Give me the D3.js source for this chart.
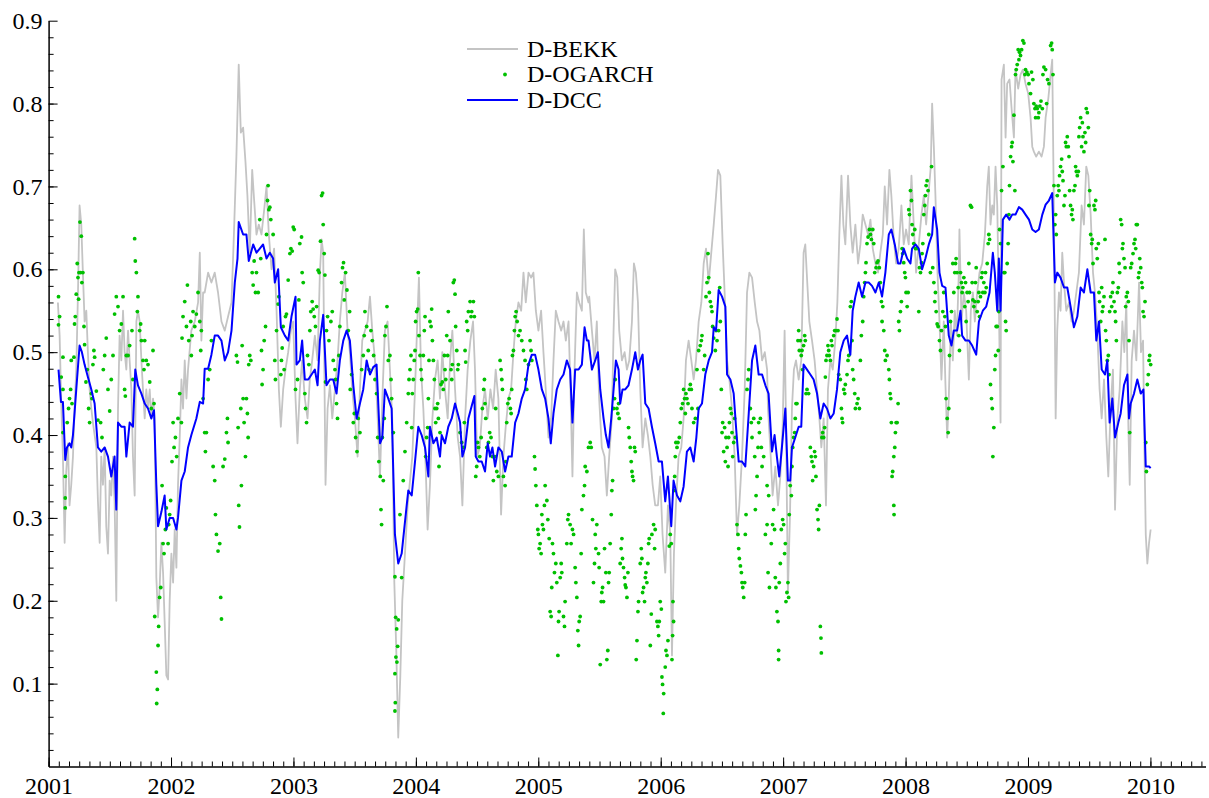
<!DOCTYPE html>
<html>
<head>
<meta charset="utf-8">
<script src="https://cdn.jsdelivr.net/npm/d3@7"></script>
<style>
body { margin: 0; background: #fff; }
svg text { font-family: "Liberation Serif", "DejaVu Serif", serif; fill: #000; }
</style>
</head>
<body>
<svg id="chart"></svg>
<script>
// tick labels
const yearTicks = [2001, 2002, 2003, 2004, 2005, 2006, 2007, 2008, 2009, 2010]
const valueTicks = [0.1, 0.2, 0.3, 0.4, 0.5, 0.6, 0.7, 0.8, 0.9]
const seriesNames = ["D-BEKK", "D-OGARCH", "D-DCC"]

// [decimal year, value]
const bekk = [
[2001.076,.56],[2001.090,.52],[2001.103,.44],[2001.117,.374],[2001.131,.27],[2001.144,.356],[2001.158,.39],[2001.171,.315],[2001.185,.34],[2001.199,.374],
[2001.212,.432],[2001.226,.479],[2001.240,.572],[2001.253,.677],[2001.267,.654],[2001.280,.596],[2001.294,.537],[2001.308,.55],[2001.321,.50],[2001.335,.455],
[2001.349,.432],[2001.362,.415],[2001.376,.40],[2001.390,.385],[2001.403,.32],[2001.417,.27],[2001.430,.374],[2001.444,.34],[2001.458,.385],[2001.471,.29],
[2001.485,.257],[2001.499,.345],[2001.512,.327],[2001.526,.374],[2001.539,.32],[2001.553,.20],[2001.567,.432],[2001.580,.52],[2001.594,.49],[2001.608,.55],
[2001.621,.50],[2001.635,.479],[2001.649,.526],[2001.662,.49],[2001.676,.455],[2001.689,.374],[2001.703,.327],[2001.717,.537],[2001.730,.55],[2001.744,.537],
[2001.758,.49],[2001.771,.455],[2001.785,.42],[2001.798,.455],[2001.812,.432],[2001.826,.455],[2001.839,.42],[2001.853,.444],[2001.867,.42],[2001.880,.228],
[2001.894,.18],[2001.907,.216],[2001.921,.27],[2001.935,.234],[2001.948,.175],[2001.962,.11],[2001.976,.105],[2001.989,.20],[2002.003,.257],[2002.017,.222],
[2002.030,.286],[2002.044,.24],[2002.057,.34],[2002.071,.397],[2002.085,.467],[2002.098,.432],[2002.112,.49],[2002.126,.444],[2002.139,.479],[2002.166,.526],
[2002.194,.537],[2002.221,.56],[2002.235,.62],[2002.248,.514],[2002.262,.572],[2002.275,.572],[2002.303,.596],[2002.330,.584],[2002.357,.596],[2002.384,.572],
[2002.412,.537],[2002.439,.526],
[2002.466,.543],[2002.494,.56],[2002.515,.648],[2002.534,.736],[2002.553,.847],[2002.570,.765],[2002.589,.771],[2002.608,.73],[2002.624,.689],[2002.643,.62],
[2002.663,.72],[2002.679,.683],[2002.698,.642],[2002.717,.654],[2002.739,.642],[2002.761,.672],[2002.780,.70],[2002.799,.642],[2002.821,.60],[2002.842,.625],
[2002.862,.55],[2002.881,.455],[2002.897,.41],[2002.916,.455],[2002.935,.479],[2002.957,.50],[2002.979,.526],[2002.998,.537],[2003.017,.444],[2003.033,.39],
[2003.052,.455],[2003.071,.49],[2003.093,.444],[2003.115,.42],[2003.134,.467],[2003.153,.49],[2003.175,.52],[2003.197,.49],[2003.216,.596],[2003.230,.636],
[2003.243,.62],[2003.262,.34],[2003.279,.432],[2003.298,.46],[2003.317,.42],[2003.339,.455],[2003.360,.49],[2003.379,.537],[2003.399,.572],[2003.420,.596],
[2003.442,.526],[2003.461,.50],[2003.480,.455],[2003.502,.42],[2003.524,.374],[2003.543,.455],[2003.562,.514],[2003.584,.526],[2003.606,.537],[2003.625,.567],
[2003.644,.526],[2003.666,.49],[2003.688,.42],[2003.707,.35],[2003.726,.444],[2003.747,.526],[2003.769,.537],[2003.788,.479],[2003.807,.42],[2003.824,.222],
[2003.840,.14],[2003.856,.035],[2003.873,.11],[2003.889,.20],[2003.911,.257],
[2003.933,.315],[2003.952,.345],[2003.971,.374],[2003.993,.455],[2004.009,.526],[2004.025,.59],[2004.042,.479],[2004.061,.432],[2004.080,.362],[2004.096,.286],
[2004.115,.34],[2004.135,.42],[2004.156,.467],[2004.178,.49],[2004.197,.444],[2004.216,.50],[2004.238,.455],[2004.260,.42],[2004.279,.49],[2004.298,.526],
[2004.320,.455],[2004.342,.397],[2004.361,.374],[2004.380,.315],[2004.402,.42],[2004.423,.479],[2004.445,.514],[2004.467,.537],[2004.483,.479],[2004.500,.374],
[2004.522,.385],[2004.543,.432],[2004.565,.455],[2004.587,.42],[2004.609,.455],[2004.631,.432],[2004.652,.479],[2004.674,.444],[2004.696,.304],[2004.715,.374],
[2004.734,.41],[2004.756,.444],[2004.778,.455],[2004.797,.50],[2004.816,.537],[2004.838,.56],[2004.860,.55],[2004.879,.596],[2004.898,.56],[2004.920,.596],
[2004.941,.59],[2004.960,.596],[2004.980,.55],[2005.001,.526],[2005.023,.55],[2005.042,.50],[2005.061,.455],[2005.083,.397],[2005.105,.42],[2005.124,.49],
[2005.143,.55],[2005.165,.537],[2005.187,.526],[2005.206,.537],[2005.225,.514],[2005.247,.537],[2005.263,.455],[2005.279,.35],[2005.296,.479],[2005.315,.572],
[2005.334,.56],[2005.356,.55],[2005.372,.648],[2005.388,.572],[2005.410,.56],
[2005.416,.567],[2005.438,.526],[2005.459,.49],[2005.478,.537],[2005.497,.444],[2005.519,.385],[2005.541,.374],[2005.560,.327],[2005.579,.374],[2005.601,.42],
[2005.615,.526],[2005.628,.60],[2005.645,.59],[2005.661,.526],[2005.683,.49],[2005.705,.50],[2005.724,.479],[2005.743,.49],[2005.765,.537],[2005.781,.607],
[2005.797,.596],[2005.814,.56],[2005.833,.455],[2005.852,.385],[2005.874,.42],[2005.895,.40],[2005.915,.374],[2005.934,.34],[2005.955,.315],[2005.977,.315],
[2005.996,.35],[2006.015,.28],[2006.037,.234],[2006.059,.315],[2006.078,.28],[2006.092,.134],[2006.108,.257],[2006.124,.315],[2006.146,.374],[2006.168,.385],
[2006.187,.42],[2006.206,.49],[2006.228,.514],[2006.250,.49],[2006.269,.467],[2006.288,.49],[2006.310,.537],[2006.332,.56],[2006.351,.607],[2006.370,.625],
[2006.392,.584],[2006.413,.62],[2006.433,.654],[2006.452,.689],[2006.468,.72],[2006.487,.713],[2006.506,.63],[2006.522,.572],[2006.542,.49],[2006.561,.467],
[2006.582,.432],[2006.604,.374],[2006.623,.28],[2006.642,.315],[2006.664,.374],[2006.686,.455],[2006.705,.572],[2006.724,.596],[2006.746,.59],[2006.768,.56],
[2006.787,.537],[2006.806,.526],[2006.828,.49],[2006.850,.50],[2006.869,.479],
[2006.876,.432],[2006.895,.385],[2006.914,.327],[2006.936,.362],[2006.958,.315],[2006.977,.35],[2006.996,.41],[2007.012,.526],[2007.023,.42],[2007.039,.21],
[2007.056,.304],[2007.072,.432],[2007.088,.479],[2007.105,.49],[2007.127,.467],[2007.148,.49],[2007.167,.62],[2007.181,.63],[2007.197,.584],[2007.214,.537],
[2007.236,.514],[2007.257,.49],[2007.277,.455],[2007.296,.42],[2007.312,.385],[2007.331,.42],[2007.350,.315],[2007.366,.455],[2007.386,.49],[2007.405,.479],
[2007.426,.514],[2007.443,.56],[2007.459,.642],[2007.476,.713],[2007.492,.654],[2007.508,.63],[2007.530,.713],[2007.549,.654],[2007.568,.62],[2007.590,.654],
[2007.612,.607],[2007.631,.63],[2007.650,.666],[2007.672,.654],[2007.694,.642],[2007.713,.66],[2007.732,.625],[2007.754,.607],[2007.775,.596],[2007.794,.62],
[2007.814,.642],[2007.830,.70],[2007.849,.654],[2007.868,.72],[2007.884,.689],[2007.904,.636],[2007.923,.607],[2007.944,.625],[2007.966,.677],[2007.985,.63],
[2008.004,.648],[2008.026,.63],[2008.048,.713],[2008.067,.654],[2008.086,.596],[2008.108,.63],[2008.130,.666],[2008.149,.689],[2008.168,.654],[2008.190,.695],
[2008.206,.724],[2008.217,.80],[2008.231,.748],[2008.244,.689],[2008.261,.596],[2008.277,.537],[2008.293,.467],[2008.312,.537],
[2008.326,.46],[2008.340,.397],[2008.353,.444],[2008.370,.537],[2008.386,.49],[2008.402,.55],[2008.419,.52],[2008.435,.596],[2008.440,.648],[2008.457,.537],
[2008.476,.572],[2008.495,.55],[2008.517,.467],[2008.533,.55],[2008.550,.572],[2008.566,.537],[2008.585,.572],[2008.604,.596],[2008.626,.607],[2008.648,.642],
[2008.667,.70],[2008.680,.724],[2008.694,.654],[2008.708,.677],[2008.721,.666],[2008.735,.724],[2008.749,.677],[2008.762,.56],[2008.776,.415],[2008.784,.829],
[2008.803,.847],[2008.817,.759],[2008.830,.824],[2008.849,.829],[2008.866,.794],[2008.885,.759],[2008.898,.841],[2008.920,.818],[2008.939,.835],[2008.958,.841],
[2008.980,.824],[2009.002,.812],[2009.021,.783],[2009.035,.748],[2009.048,.742],[2009.067,.736],[2009.089,.742],[2009.111,.736],[2009.130,.748],[2009.144,.783],
[2009.166,.806],[2009.185,.835],[2009.198,.853],[2009.212,.666],[2009.226,.42],[2009.239,.526],[2009.253,.572],[2009.266,.55],[2009.280,.62],[2009.294,.584],
[2009.313,.55],[2009.335,.56],[2009.356,.537],[2009.375,.55],[2009.395,.572],[2009.416,.596],[2009.438,.677],[2009.457,.654],[2009.476,.724],[2009.493,.713],
[2009.512,.666],[2009.531,.596],[2009.547,.572],[2009.566,.526],[2009.585,.455],[2009.602,.42],[2009.621,.467],[2009.640,.397],[2009.656,.35],[2009.675,.432],
[2009.694,.479],[2009.711,.31],[2009.730,.42],[2009.749,.455],[2009.771,.537],[2009.787,.50],[2009.803,.56],[2009.820,.41],[2009.831,.34],[2009.847,.49],
[2009.866,.526],[2009.885,.49],[2009.907,.584],[2009.923,.50],[2009.940,.514],[2009.951,.385],[2009.962,.28],[2009.975,.245],[2009.989,.27],[2010.002,.286]
]

const ogarch = [
[2001.081,.567],[2001.090,.543],[2001.081,.533],[2001.117,.494],[2001.103,.47],[2001.117,.455],[2001.117,.403],[2001.136,.35],[2001.136,.324],[2001.136,.312],
[2001.152,.415],[2001.163,.432],[2001.171,.444],[2001.180,.455],[2001.185,.49],[2001.191,.438],[2001.207,.494],[2001.212,.534],[2001.218,.543],[2001.226,.57],
[2001.234,.607],[2001.240,.59],[2001.245,.564],[2001.248,.596],[2001.256,.657],[2001.261,.596],[2001.267,.64],[2001.272,.584],[2001.280,.596],[2001.289,.531],
[2001.294,.509],[2001.305,.464],[2001.316,.479],[2001.327,.432],[2001.335,.415],[2001.349,.45],[2001.354,.444],[2001.362,.485],[2001.370,.502],[2001.376,.494],
[2001.390,.453],[2001.403,.418],[2001.425,.415],[2001.436,.397],[2001.447,.479],[2001.458,.496],[2001.471,.517],[2001.485,.455],[2001.499,.429],[2001.512,.467],
[2001.526,.496],[2001.539,.546],[2001.553,.567],[2001.567,.555],[2001.580,.526],[2001.594,.534],[2001.608,.567],[2001.621,.455],[2001.627,.447],[2001.635,.496],
[2001.649,.496],[2001.662,.508],[2001.681,.526],[2001.689,.467],[2001.703,.637],[2001.708,.61],[2001.717,.596],[2001.725,.549],[2001.730,.567],[2001.744,.526],
[2001.752,.534],[2001.758,.514],[2001.771,.49],[2001.779,.479],[2001.785,.514],[2001.798,.49],[2001.812,.485],[2001.826,.464],[2001.839,.432],[2001.853,.502],
[2001.861,.438],[2001.867,.181],[2001.880,.114],[2001.888,.093],[2001.883,.076],[2001.894,.146],[2001.899,.169],[2001.907,.204],[2001.916,.216],[2001.927,.339],
[2001.935,.269],[2001.943,.257],[2001.954,.286],[2001.962,.312],[2001.976,.269],[2001.981,.292],[2001.989,.304],[2001.997,.321],[2002.008,.368],[2002.017,.415],
[2002.025,.385],[2002.036,.397],[2002.046,.374],[2002.057,.42],[2002.071,.45],[2002.085,.415],[2002.090,.517],[2002.098,.543],[2002.112,.561],[2002.126,.531],
[2002.134,.581],[2002.145,.514],[2002.161,.537],[2002.166,.496],[2002.172,.52],[2002.180,.549],[2002.194,.531],[2002.207,.546],[2002.221,.572],[2002.235,.537],
[2002.243,.502],[2002.248,.526],[2002.262,.444],[2002.275,.403],[2002.281,.38],[2002.289,.403],[2002.303,.467],[2002.316,.479],[2002.330,.514],[2002.344,.362],
[2002.357,.345],[2002.363,.304],[2002.371,.28],[2002.384,.26],[2002.398,.269],[2002.406,.204],[2002.412,.178],[2002.425,.362],[2002.439,.371],[2002.453,.403],
[2002.461,.42],[2002.466,.391],
[2002.534,.496],[2002.543,.488],[2002.548,.409],[2002.553,.315],[2002.559,.289],[2002.570,.432],[2002.575,.339],[2002.581,.508],[2002.589,.444],[2002.597,.415],
[2002.608,.374],[2002.616,.444],[2002.624,.426],[2002.630,.397],[2002.635,.485],[2002.643,.496],[2002.652,.49],[2002.663,.596],[2002.671,.581],[2002.679,.61],
[2002.690,.572],[2002.698,.596],[2002.712,.572],[2002.725,.66],[2002.733,.613],[2002.739,.502],[2002.744,.461],[2002.752,.479],[2002.761,.514],[2002.772,.531],
[2002.780,.642],[2002.788,.683],[2002.793,.701],[2002.799,.672],[2002.807,.675],[2002.815,.66],[2002.834,.642],[2002.848,.49],[2002.853,.467],[2002.862,.526],
[2002.875,.558],[2002.881,.567],[2002.897,.473],[2002.902,.49],[2002.908,.505],[2002.916,.531],[2002.924,.479],[2002.935,.543],[2002.943,.546],[2002.957,.587],
[2002.971,.619],[2002.979,.625],[2002.990,.622],[2002.998,.651],[2003.006,.648],[2003.017,.455],[2003.033,.467],[2003.044,.563],[2003.052,.631],[2003.066,.639],
[2003.071,.596],[2003.080,.584],[2003.093,.45],[2003.099,.432],[2003.107,.415],[2003.115,.496],[2003.126,.485],[2003.134,.526],[2003.142,.549],[2003.153,.561],
[2003.161,.552],[2003.170,.543],[2003.180,.531],[2003.189,.555],[2003.202,.599],[2003.210,.596],[2003.221,.634],[2003.230,.689],[2003.238,.692],[2003.243,.654],
[2003.251,.619],[2003.257,.593],[2003.262,.464],[2003.270,.526],[2003.279,.543],[2003.290,.514],[2003.306,.537],[2003.317,.549],[2003.325,.49],[2003.339,.479],
[2003.344,.467],[2003.352,.438],[2003.360,.42],[2003.371,.496],[2003.379,.531],[2003.393,.584],[2003.401,.602],[2003.409,.608],[2003.415,.563],[2003.426,.596],
[2003.437,.575],[2003.448,.526],[2003.459,.549],[2003.464,.455],[2003.475,.473],[2003.489,.415],[2003.497,.426],[2003.508,.397],[2003.519,.38],[2003.529,.42],
[2003.543,.403],[2003.557,.479],[2003.570,.496],[2003.578,.52],[2003.584,.549],[2003.598,.531],[2003.611,.502],[2003.617,.479],[2003.633,.526],[2003.644,.514],
[2003.655,.496],[2003.666,.467],[2003.679,.45],[2003.688,.397],[2003.698,.368],[2003.709,.35],[2003.715,.31],[2003.720,.292],[2003.726,.397],[2003.734,.345],
[2003.742,.42],[2003.747,.52],[2003.756,.531],[2003.764,.555],[2003.775,.49],[2003.788,.496],[2003.797,.467],[2003.802,.444],[2003.816,.403],[2003.829,.229],
[2003.835,.18],[2003.843,.166],[2003.851,.145],[2003.856,.177],[2003.837,.132],[2003.829,.112],[2003.832,.077],[2003.829,.067],[2003.845,.126],[2003.870,.304],
[2003.884,.228],[2003.897,.345],[2003.911,.38],[2003.925,.415],[2003.938,.45],[2003.944,.467],
[2003.952,.479],[2003.960,.496],[2003.966,.409],[2003.971,.45],[2003.979,.467],[2003.987,.49],[2003.993,.502],[2003.998,.537],[2004.006,.549],[2004.015,.552],
[2004.020,.596],[2004.025,.52],[2004.034,.496],[2004.042,.479],[2004.047,.467],[2004.061,.496],[2004.069,.526],[2004.075,.543],[2004.080,.374],[2004.088,.397],
[2004.096,.409],[2004.102,.444],[2004.107,.49],[2004.115,.537],[2004.124,.531],[2004.129,.552],[2004.135,.514],[2004.143,.49],[2004.151,.467],[2004.156,.432],
[2004.162,.415],[2004.170,.432],[2004.178,.438],[2004.184,.42],[2004.189,.362],[2004.197,.403],[2004.205,.461],[2004.216,.464],[2004.224,.455],[2004.233,.496],
[2004.238,.479],[2004.244,.467],[2004.252,.52],[2004.260,.496],[2004.265,.549],[2004.279,.514],[2004.287,.479],[2004.293,.467],[2004.298,.485],[2004.306,.584],
[2004.314,.587],[2004.320,.57],[2004.325,.531],[2004.334,.502],[2004.342,.479],[2004.347,.485],[2004.361,.403],[2004.374,.391],[2004.388,.385],[2004.396,.415],
[2004.402,.502],[2004.407,.488],[2004.415,.537],[2004.423,.526],[2004.429,.549],[2004.443,.561],[2004.451,.543],[2004.456,.549],[2004.470,.561],[2004.478,.543],
[2004.489,.35],[2004.497,.362],[2004.505,.391],[2004.511,.385],[2004.522,.374],[2004.533,.397],[2004.543,.432],[2004.554,.455],[2004.560,.467],[2004.565,.438],
[2004.571,.42],[2004.579,.385],[2004.593,.391],[2004.603,.403],[2004.614,.397],[2004.625,.374],[2004.633,.345],[2004.647,.374],[2004.652,.432],[2004.661,.356],
[2004.674,.35],[2004.688,.49],[2004.696,.479],[2004.702,.467],[2004.707,.455],[2004.715,.35],[2004.729,.339],[2004.734,.368],[2004.742,.415],[2004.751,.438],
[2004.762,.444],[2004.772,.432],[2004.778,.426],[2004.783,.455],[2004.789,.496],[2004.797,.502],[2004.805,.526],[2004.811,.543],[2004.819,.549],[2004.827,.537],
[2004.838,.52],[2004.851,.526],[2004.865,.514],[2004.879,.502],[2004.892,.49],[2004.898,.467],[2004.906,.455],[2004.920,.485],[2004.933,.514],[2004.941,.502],
[2004.947,.49],[2004.969,.374],[2004.974,.359],[2004.980,.339],[2004.988,.315],[2004.996,.286],[2005.001,.28],[2005.007,.263],[2005.015,.269],[2005.023,.257],
[2005.029,.304],[2005.034,.292],[2005.042,.286],[2005.050,.315],[2005.056,.339],[2005.070,.321],[2005.078,.298],[2005.089,.275],[2005.097,.187],[2005.105,.181],
[2005.110,.216],[2005.116,.269],[2005.124,.257],[2005.132,.234],[2005.143,.245],[2005.151,.222],[2005.160,.134],[2005.165,.175],[2005.170,.187],[2005.179,.228],
[2005.187,.245],[2005.192,.234],[2005.206,.181],[2005.214,.169],[2005.219,.199],[2005.233,.269],[2005.241,.298],[2005.247,.304],[2005.260,.292],[2005.268,.269],
[2005.279,.286],[2005.288,.28],[2005.301,.24],[2005.307,.222],[2005.315,.204],[2005.323,.164],[2005.329,.146],[2005.334,.175],[2005.342,.181],[2005.350,.257],
[2005.356,.31],[2005.369,.327],[2005.378,.339],[2005.383,.362],[2005.397,.356],[2005.410,.385],[2005.424,.391],
[2005.432,.385],[2005.443,.298],[2005.451,.222],[2005.459,.245],[2005.465,.28],[2005.470,.263],[2005.478,.292],[2005.492,.257],[2005.497,.24],[2005.506,.123],
[2005.514,.199],[2005.519,.21],[2005.525,.216],[2005.533,.199],[2005.541,.263],[2005.552,.234],[2005.560,.129],[2005.568,.14],[2005.574,.222],[2005.579,.234],
[2005.587,.269],[2005.596,.304],[2005.601,.333],[2005.607,.345],[2005.615,.432],[2005.623,.444],[2005.628,.467],[2005.642,.432],[2005.650,.426],[2005.656,.438],
[2005.661,.42],[2005.669,.245],[2005.677,.263],[2005.683,.275],[2005.688,.251],[2005.696,.24],[2005.705,.228],[2005.710,.219],[2005.716,.216],[2005.724,.204],
[2005.732,.234],[2005.737,.409],[2005.743,.397],[2005.751,.385],[2005.759,.368],[2005.765,.356],[2005.770,.35],[2005.778,.345],[2005.786,.385],[2005.792,.38],
[2005.800,.129],[2005.806,.152],[2005.814,.187],[2005.819,.199],[2005.833,.245],[2005.841,.263],[2005.846,.251],[2005.852,.21],[2005.860,.216],[2005.868,.199],
[2005.874,.228],[2005.879,.234],[2005.887,.222],[2005.895,.245],[2005.901,.269],[2005.906,.275],[2005.915,.146],[2005.923,.184],[2005.928,.28],[2005.942,.292],
[2005.950,.263],[2005.955,.286],[2005.969,.175],[2005.977,.169],[2005.983,.158],[2005.988,.175],[2005.996,.199],[2006.005,.19],[2006.010,.108],[2006.015,.099],
[2006.024,.088],[2006.021,.064],[2006.037,.12],[2006.043,.14],[2006.051,.134],[2006.059,.152],[2006.070,.266],[2006.078,.28],[2006.086,.269],[2006.092,.129],
[2006.097,.158],[2006.105,.175],[2006.100,.199],[2006.108,.333],[2006.114,.35],[2006.119,.374],[2006.124,.391],[2006.133,.385],[2006.141,.391],[2006.152,.397],
[2006.160,.415],[2006.168,.432],[2006.179,.438],[2006.187,.455],[2006.195,.444],[2006.201,.426],[2006.206,.45],[2006.214,.444],[2006.223,.438],[2006.234,.455],
[2006.242,.461],[2006.250,.455],[2006.255,.432],[2006.269,.415],[2006.283,.42],[2006.296,.479],[2006.304,.432],[2006.310,.502],[2006.323,.508],[2006.332,.514],
[2006.337,.52],[2006.351,.479],[2006.359,.496],[2006.370,.567],[2006.378,.584],[2006.386,.619],[2006.392,.59],[2006.397,.572],[2006.405,.561],[2006.413,.555],
[2006.419,.549],[2006.424,.531],[2006.433,.517],[2006.446,.502],[2006.452,.526],[2006.460,.514],[2006.473,.526],[2006.482,.578],[2006.487,.537],[2006.495,.455],
[2006.501,.403],[2006.506,.415],[2006.514,.38],[2006.522,.409],[2006.528,.368],[2006.533,.397],[2006.542,.385],[2006.550,.362],[2006.555,.397],[2006.561,.415],
[2006.569,.432],[2006.577,.426],[2006.582,.403],[2006.588,.374],[2006.596,.391],[2006.604,.42],[2006.610,.397],[2006.623,.292],[2006.631,.28],[2006.637,.263],
[2006.642,.251],[2006.651,.242],[2006.659,.234],[2006.664,.222],[2006.670,.216],[2006.678,.204],[2006.686,.222],[2006.691,.28],[2006.697,.304],[2006.705,.455],
[2006.713,.467],[2006.719,.479],[2006.732,.432],[2006.740,.415],[2006.746,.397],[2006.760,.42],[2006.768,.374],[2006.773,.31],[2006.779,.327],[2006.787,.35],
[2006.795,.385],[2006.800,.415],[2006.806,.403],[2006.814,.42],[2006.822,.385],[2006.828,.362],[2006.841,.374],[2006.855,.28],[2006.869,.292],[2006.877,.234],
[2006.888,.216],[2006.869,.339],[2006.882,.327],
[2006.903,.269],[2006.914,.292],[2006.922,.31],[2006.930,.286],[2006.936,.228],[2006.941,.216],[2006.949,.187],[2006.958,.175],[2006.963,.14],[2006.963,.129],
[2006.968,.222],[2006.977,.245],[2006.985,.286],[2006.996,.298],[2007.004,.292],[2007.012,.257],[2007.018,.269],[2007.023,.199],[2007.031,.21],[2007.039,.222],
[2007.045,.204],[2007.050,.304],[2007.058,.339],[2007.067,.327],[2007.072,.362],[2007.078,.385],[2007.086,.397],[2007.094,.403],[2007.099,.42],[2007.105,.438],
[2007.113,.438],[2007.121,.514],[2007.127,.526],[2007.132,.502],[2007.140,.514],[2007.148,.496],[2007.154,.502],[2007.159,.479],[2007.167,.508],[2007.176,.52],
[2007.181,.514],[2007.187,.45],[2007.195,.455],[2007.208,.45],[2007.222,.385],[2007.230,.374],[2007.236,.368],[2007.241,.345],[2007.249,.362],[2007.257,.38],
[2007.263,.374],[2007.268,.35],[2007.277,.31],[2007.285,.298],[2007.290,.286],[2007.296,.315],[2007.304,.169],[2007.309,.155],[2007.312,.137],[2007.317,.397],
[2007.323,.403],[2007.331,.397],[2007.339,.409],[2007.345,.47],[2007.350,.49],[2007.358,.496],[2007.366,.508],[2007.372,.502],[2007.377,.496],[2007.386,.49],
[2007.394,.514],[2007.399,.508],[2007.413,.52],[2007.421,.526],[2007.432,.526],[2007.440,.54],[2007.448,.526],[2007.454,.473],[2007.467,.467],[2007.476,.432],
[2007.481,.42],[2007.486,.415],[2007.495,.455],[2007.503,.45],[2007.508,.461],[2007.522,.473],[2007.530,.49],[2007.536,.496],[2007.549,.555],[2007.557,.561],
[2007.563,.514],[2007.568,.479],[2007.576,.467],[2007.585,.45],[2007.590,.432],[2007.604,.438],[2007.612,.444],[2007.623,.432],[2007.631,.49],[2007.639,.52],
[2007.650,.537],[2007.658,.567],[2007.666,.584],[2007.672,.596],[2007.677,.608],[2007.685,.631],[2007.694,.639],[2007.705,.648],[2007.713,.642],[2007.721,.636],
[2007.732,.648],[2007.740,.631],[2007.748,.596],[2007.759,.602],[2007.767,.608],[2007.775,.61],[2007.786,.602],[2007.794,.584],[2007.803,.561],[2007.808,.537],
[2007.814,.555],[2007.822,.526],[2007.830,.502],[2007.835,.49],[2007.849,.496],[2007.863,.479],[2007.868,.467],[2007.874,.45],[2007.879,.444],[2007.884,.415],
[2007.890,.35],[2007.895,.356],[2007.904,.374],[2007.904,.315],[2007.906,.304],[2007.912,.385],[2007.917,.403],[2007.923,.415],[2007.931,.415],[2007.939,.438],
[2007.944,.537],[2007.950,.526],[2007.958,.549],[2007.966,.561],[2007.972,.625],[2007.977,.619],[2007.985,.608],[2007.993,.596],[2007.999,.59],[2008.004,.572],
[2008.013,.555],[2008.021,.572],[2008.026,.672],[2008.032,.666],[2008.040,.695],[2008.048,.683],[2008.053,.654],[2008.059,.642],[2008.067,.631],[2008.075,.648],
[2008.081,.625],[2008.094,.625],[2008.108,.549],[2008.113,.602],[2008.122,.596],[2008.130,.608],[2008.135,.619],[2008.141,.631],[2008.149,.666],[2008.157,.677],
[2008.162,.689],[2008.168,.701],[2008.176,.707],[2008.184,.695],[2008.190,.642],[2008.203,.596],[2008.212,.724],[2008.222,.602],[2008.231,.584],[2008.239,.561],
[2008.244,.572],[2008.250,.549],[2008.258,.534],[2008.266,.531],[2008.277,.514],[2008.285,.502],[2008.293,.526],[2008.304,.549],[2008.312,.572],[2008.321,.543],
[2008.326,.531],[2008.331,.444],[2008.340,.42],[2008.348,.403],[2008.353,.432],
[2008.359,.496],[2008.367,.537],[2008.375,.549],[2008.386,.607],[2008.394,.572],[2008.402,.596],[2008.408,.607],[2008.413,.613],[2008.421,.596],[2008.430,.578],
[2008.435,.52],[2008.440,.502],[2008.449,.596],[2008.457,.584],[2008.462,.572],[2008.468,.578],[2008.476,.59],[2008.484,.555],[2008.490,.584],[2008.495,.537],
[2008.503,.572],[2008.511,.561],[2008.517,.607],[2008.522,.572],[2008.530,.677],[2008.539,.675],[2008.544,.584],[2008.550,.563],[2008.558,.555],[2008.566,.561],
[2008.571,.584],[2008.577,.602],[2008.585,.549],[2008.593,.561],[2008.599,.572],[2008.604,.543],[2008.612,.567],[2008.620,.59],[2008.626,.596],[2008.631,.572],
[2008.639,.584],[2008.648,.572],[2008.653,.596],[2008.659,.578],[2008.667,.607],[2008.675,.631],[2008.680,.642],[2008.686,.636],[2008.694,.461],[2008.702,.444],
[2008.708,.432],[2008.713,.374],[2008.721,.409],[2008.729,.479],[2008.735,.496],[2008.740,.531],[2008.749,.531],[2008.757,.502],[2008.762,.549],[2008.768,.648],
[2008.776,.631],[2008.784,.695],[2008.795,.724],[2008.803,.596],[2008.811,.596],[2008.817,.537],[2008.822,.526],[2008.830,.607],[2008.838,.631],[2008.844,.666],
[2008.849,.701],[2008.858,.736],[2008.866,.748],[2008.871,.753],[2008.877,.73],[2008.885,.786],[2008.893,.695],[2008.898,.835],[2008.904,.841],[2008.912,.847],
[2008.920,.865],[2008.926,.853],[2008.931,.862],[2008.939,.858],[2008.948,.865],[2008.958,.876],[2008.967,.873],[2008.975,.835],[2008.980,.841],[2008.991,.838],
[2009.002,.835],[2009.008,.824],[2009.021,.812],[2009.029,.838],[2009.040,.829],[2009.048,.80],[2009.057,.794],[2009.062,.783],[2009.067,.797],[2009.076,.794],
[2009.084,.783],[2009.089,.789],[2009.097,.797],[2009.106,.803],[2009.117,.794],[2009.122,.835],[2009.130,.844],[2009.144,.841],[2009.152,.80],[2009.160,.829],
[2009.171,.824],[2009.185,.87],[2009.193,.873],[2009.198,.865],[2009.204,.835],[2009.212,.701],[2009.220,.654],[2009.226,.666],[2009.231,.642],[2009.239,.689],
[2009.247,.701],[2009.253,.695],[2009.258,.713],[2009.266,.724],[2009.275,.733],[2009.280,.718],[2009.286,.707],[2009.294,.677],[2009.302,.689],[2009.307,.753],
[2009.313,.748],[2009.321,.76],[2009.329,.748],[2009.335,.736],[2009.340,.695],[2009.348,.677],[2009.356,.666],[2009.362,.672],[2009.367,.66],[2009.375,.695],
[2009.384,.701],[2009.389,.724],[2009.395,.718],[2009.403,.713],[2009.411,.718],[2009.416,.76],[2009.422,.771],[2009.430,.783],[2009.438,.748],[2009.444,.777],
[2009.449,.76],[2009.457,.742],[2009.465,.765],[2009.471,.753],[2009.476,.794],[2009.485,.789],[2009.493,.771],[2009.498,.677],[2009.504,.695],[2009.512,.642],
[2009.520,.631],[2009.525,.636],[2009.531,.607],[2009.539,.677],[2009.547,.672],[2009.553,.683],[2009.558,.625],[2009.566,.613],[2009.575,.631],[2009.580,.572],
[2009.585,.561],[2009.594,.537],[2009.602,.578],[2009.607,.549],[2009.613,.555],[2009.621,.567],[2009.629,.636],[2009.634,.526],[2009.640,.514],[2009.648,.49],
[2009.656,.496],[2009.662,.473],[2009.667,.549],[2009.675,.567],[2009.684,.555],[2009.689,.572],[2009.694,.584],[2009.703,.561],[2009.711,.549],[2009.716,.537],
[2009.722,.514],[2009.730,.572],[2009.738,.578],[2009.744,.607],[2009.749,.596],[2009.757,.66],[2009.765,.654],[2009.771,.625],[2009.776,.631],[2009.784,.613],
[2009.793,.602],[2009.798,.555],[2009.803,.567],[2009.812,.572],[2009.820,.561],[2009.825,.514],[2009.831,.403],[2009.839,.602],[2009.847,.607],[2009.858,.619],
[2009.866,.631],[2009.874,.636],[2009.880,.625],[2009.885,.654],[2009.893,.654],[2009.902,.59],[2009.907,.596],[2009.913,.613],[2009.921,.602],[2009.929,.584],
[2009.934,.578],[2009.940,.549],[2009.948,.543],[2009.956,.561],[2009.962,.391],[2009.967,.356],[2009.975,.461],[2009.983,.473],[2009.989,.49],[2009.994,.496],
[2010.002,.485]
]

const dcc = [
[2001.081,.479],[2001.101,.44],[2001.117,.44],[2001.136,.37],[2001.150,.385],[2001.171,.39],[2001.185,.385],[2001.199,.40],[2001.226,.455],[2001.253,.508],
[2001.272,.50],[2001.294,.485],[2001.321,.47],[2001.349,.455],[2001.376,.438],[2001.403,.385],[2001.430,.38],[2001.458,.385],[2001.485,.374],[2001.512,.35],
[2001.539,.374],[2001.553,.31],[2001.567,.415],[2001.594,.41],[2001.621,.41],[2001.635,.374],[2001.662,.415],[2001.689,.41],[2001.708,.479],[2001.730,.46],
[2001.758,.45],[2001.785,.438],[2001.812,.432],[2001.839,.42],[2001.861,.43],[2001.880,.34],[2001.894,.29],[2001.921,.307],[2001.948,.327],[2001.962,.286],
[2001.989,.30],[2002.017,.30],[2002.044,.286],[2002.057,.30],[2002.085,.345],[2002.112,.356],[2002.139,.385],[2002.166,.40],[2002.207,.42],[2002.235,.44],
[2002.262,.438],[2002.275,.48],[2002.303,.48],[2002.330,.497],[2002.357,.52],[2002.384,.52],[2002.412,.514],[2002.439,.49],
[2002.466,.50],[2002.494,.526],[2002.521,.584],[2002.543,.613],[2002.553,.657],[2002.589,.642],[2002.616,.642],[2002.635,.61],[2002.671,.63],[2002.698,.62],
[2002.725,.625],[2002.752,.63],[2002.780,.613],[2002.807,.62],[2002.834,.613],[2002.848,.584],[2002.875,.60],[2002.897,.53],[2002.930,.52],[2002.957,.514],
[2002.984,.543],[2003.017,.567],[2003.025,.485],[2003.052,.49],[2003.071,.514],[2003.093,.467],[2003.121,.467],[2003.148,.473],[2003.175,.479],[2003.197,.46],
[2003.216,.514],[2003.243,.545],[2003.270,.46],[2003.298,.467],[2003.325,.467],[2003.352,.45],[2003.379,.49],[2003.407,.514],[2003.434,.526],[2003.461,.514],
[2003.489,.46],[2003.516,.42],[2003.543,.438],[2003.570,.455],[2003.598,.49],[2003.625,.473],[2003.652,.482],[2003.679,.485],[2003.707,.39],[2003.726,.397],
[2003.747,.455],[2003.775,.444],[2003.802,.432],[2003.829,.28],[2003.856,.245],[2003.884,.257],[2003.925,.315],
[2003.938,.333],[2003.966,.327],[2003.993,.368],[2004.020,.41],[2004.047,.40],[2004.075,.385],[2004.102,.35],[2004.115,.41],[2004.143,.39],[2004.170,.397],
[2004.197,.374],[2004.211,.40],[2004.238,.39],[2004.265,.41],[2004.293,.42],[2004.320,.438],[2004.342,.426],[2004.361,.415],[2004.380,.374],[2004.402,.385],
[2004.429,.42],[2004.456,.435],[2004.478,.447],[2004.489,.374],[2004.511,.368],[2004.538,.368],[2004.565,.356],[2004.587,.39],[2004.606,.374],[2004.625,.385],
[2004.647,.362],[2004.674,.385],[2004.702,.38],[2004.729,.356],[2004.756,.374],[2004.783,.374],[2004.811,.415],[2004.838,.426],[2004.865,.444],[2004.892,.455],
[2004.920,.485],[2004.947,.497],[2004.974,.497],[2005.001,.479],[2005.029,.455],[2005.056,.444],[2005.083,.42],[2005.102,.39],[2005.124,.426],[2005.151,.455],
[2005.179,.467],[2005.206,.473],[2005.233,.49],[2005.260,.479],[2005.279,.415],[2005.301,.479],[2005.329,.479],[2005.356,.485],[2005.378,.53],[2005.397,.514],
[2005.410,.514],[2005.438,.479],[2005.465,.49],[2005.487,.50],[2005.506,.455],[2005.533,.42],[2005.552,.40],[2005.574,.385],[2005.596,.42],[2005.615,.455],
[2005.634,.49],[2005.656,.479],[2005.669,.438],[2005.688,.455],[2005.710,.455],[2005.737,.46],[2005.765,.479],[2005.792,.50],[2005.814,.479],[2005.833,.49],
[2005.852,.497],[2005.874,.438],[2005.901,.432],[2005.928,.41],[2005.955,.39],[2005.983,.368],[2006.010,.368],[2006.037,.32],[2006.059,.35],[2006.086,.29],
[2006.105,.345],[2006.133,.327],[2006.160,.32],[2006.187,.338],[2006.214,.38],[2006.242,.385],[2006.269,.368],[2006.291,.397],[2006.310,.432],[2006.337,.438],
[2006.364,.473],[2006.392,.49],[2006.419,.50],[2006.433,.53],[2006.452,.526],[2006.473,.575],[2006.501,.567],[2006.528,.555],[2006.542,.473],[2006.569,.467],
[2006.596,.45],[2006.615,.41],[2006.637,.368],[2006.664,.368],[2006.691,.362],[2006.719,.426],[2006.746,.49],[2006.773,.508],[2006.800,.473],[2006.828,.473],
[2006.855,.46],
[2006.881,.45],[2006.909,.38],[2006.930,.40],[2006.949,.374],[2006.968,.35],[2006.990,.385],[2007.018,.432],[2007.039,.345],[2007.058,.345],[2007.072,.385],
[2007.099,.397],[2007.127,.41],[2007.148,.41],[2007.167,.485],[2007.195,.479],[2007.222,.473],[2007.249,.467],[2007.277,.45],[2007.304,.42],[2007.331,.438],
[2007.358,.432],[2007.386,.42],[2007.413,.426],[2007.440,.455],[2007.467,.50],[2007.495,.514],[2007.522,.52],[2007.549,.497],[2007.568,.55],[2007.590,.567],
[2007.617,.584],[2007.645,.567],[2007.672,.584],[2007.699,.584],[2007.726,.58],[2007.754,.572],[2007.781,.584],[2007.808,.567],[2007.835,.596],[2007.863,.642],
[2007.884,.648],[2007.912,.63],[2007.939,.607],[2007.958,.607],[2007.985,.625],[2008.013,.613],[2008.040,.607],[2008.053,.625],[2008.081,.63],[2008.108,.625],
[2008.135,.60],[2008.162,.613],[2008.190,.63],[2008.217,.642],[2008.231,.675],[2008.258,.648],[2008.277,.596],[2008.299,.58],[2008.326,.578],
[2008.353,.52],[2008.375,.508],[2008.394,.526],[2008.421,.526],[2008.449,.55],[2008.462,.52],[2008.490,.514],[2008.517,.514],[2008.544,.508],[2008.577,.497],
[2008.599,.537],[2008.631,.55],[2008.659,.555],[2008.686,.572],[2008.713,.62],[2008.729,.596],[2008.749,.55],[2008.762,.613],[2008.776,.55],[2008.795,.66],
[2008.822,.666],[2008.849,.66],[2008.871,.666],[2008.898,.666],[2008.926,.675],[2008.953,.672],[2008.980,.666],[2009.008,.66],[2009.035,.648],[2009.062,.645],
[2009.089,.648],[2009.117,.666],[2009.144,.678],[2009.171,.683],[2009.198,.692],[2009.220,.584],[2009.239,.596],[2009.266,.59],[2009.294,.578],[2009.321,.578],
[2009.348,.555],[2009.375,.53],[2009.403,.543],[2009.430,.578],[2009.457,.572],[2009.485,.60],[2009.512,.572],[2009.539,.572],[2009.558,.514],[2009.580,.537],
[2009.602,.479],[2009.629,.473],[2009.648,.49],[2009.667,.415],[2009.689,.444],[2009.711,.397],[2009.738,.415],[2009.757,.426],[2009.784,.46],[2009.812,.473],
[2009.825,.42],[2009.839,.438],[2009.866,.45],[2009.893,.467],[2009.921,.45],[2009.943,.455],[2009.962,.362],[2009.989,.362],[2010.002,.36]
]

width = 1209
height = 798

var svg = d3.select("#chart")
    .attr("width", width)
    .attr("height", height)

var x = d3.scaleLinear().domain([2001, 2010.45]).range([48.6, 1205.5])
var y = d3.scaleLinear().domain([0, 0.9]).range([766.5, 20.7])

// minor ticks first, then the labelled ones
svg.append("g")
    .attr("transform", "translate(" + x(2001) + ",0)")
    .call(d3.axisLeft(y).tickValues(d3.range(0.02, 0.9, 0.02)).tickSize(-5).tickSizeOuter(0).tickFormat(""))
svg.append("g")
    .attr("transform", "translate(0," + y(0) + ")")
    .call(d3.axisBottom(x).tickValues(d3.range(2001, 2010.45, 1 / 12)).tickSize(-5).tickSizeOuter(0).tickFormat(""))

var yAxis = svg.append("g")
    .attr("transform", "translate(" + x(2001) + ",0)")
    .call(d3.axisLeft(y).tickValues(valueTicks).tickSize(-9).tickSizeOuter(0).tickPadding(6).tickFormat(d3.format(".1f")))
var xAxis = svg.append("g")
    .attr("transform", "translate(0," + y(0) + ")")
    .call(d3.axisBottom(x).tickValues(yearTicks).tickSize(-9).tickSizeOuter(0).tickPadding(10).tickFormat(d3.format("d")))

svg.selectAll(".domain, .tick line").attr("stroke", "#000").attr("stroke-width", 1)
svg.selectAll(".tick text").style("font-family", "Liberation Serif, serif").style("font-size", "24px").attr("fill", "#000")

var line = d3.line()
    .x(d => x(d[0]))
    .y(d => y(d[1]))

svg.append("path")
    .datum(bekk)
    .attr("fill", "none")
    .attr("stroke", "#c4c4c4")
    .attr("stroke-width", 1.8)
    .attr("stroke-linejoin", "round")
    .attr("d", line)

svg.append("g").selectAll("circle")
    .data(ogarch)
    .enter()
    .append("circle")
    .attr("cx", d => x(d[0]))
    .attr("cy", d => y(d[1]))
    .attr("r", 1.9)
    .attr("fill", "#00c000")

svg.append("path")
    .datum(dcc)
    .attr("fill", "none")
    .attr("stroke", "#0000ff")
    .attr("stroke-width", 2)
    .attr("stroke-linejoin", "round")
    .attr("d", line)

// legend
var legend = svg.append("g").attr("transform", "translate(467,49)")
var rows = legend.selectAll("g")
    .data(seriesNames)
    .enter()
    .append("g")
    .attr("transform", (d, i) => "translate(0," + i * 25.5 + ")")

rows.filter((d, i) => i != 1).append("line")
    .attr("x1", 0).attr("x2", 51)
    .attr("stroke", (d, i) => i == 0 ? "#c4c4c4" : "#0000ff")
    .attr("stroke-width", 1.8)
rows.filter((d, i) => i == 1).append("circle")
    .attr("cx", 38).attr("r", 1.9).attr("fill", "#00c000")
rows.append("text")
    .attr("x", 60)
    .attr("dy", "0.33em")
    .style("font-size", "24px")
    .text(d => d)
</script>
</body>
</html>
